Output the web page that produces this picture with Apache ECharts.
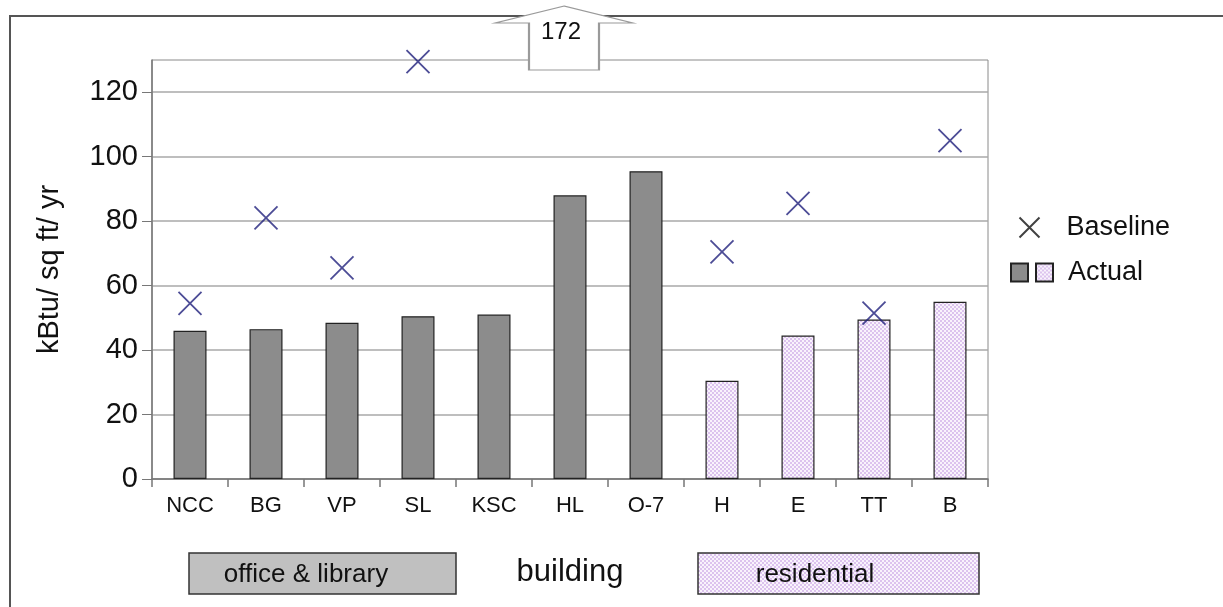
<!DOCTYPE html>
<html>
<head>
<meta charset="utf-8">
<script src="https://cdn.jsdelivr.net/npm/echarts@6/dist/echarts.min.js"></script>
<style>
html, body { margin: 0; padding: 0; background: #fff; }
#chart { width: 1223px; height: 607px; }
</style>
</head>
<body>
<div id="chart"></div>
<script>
// data
const categories = ['NCC', 'BG', 'VP', 'SL', 'KSC', 'HL', 'O-7', 'H', 'E', 'TT', 'B'];
const officeActual = [46, 46.5, 48.5, 50.5, 51, 88, 95.5, null, null, null, null];
const residentialActual = [null, null, null, null, null, null, null, 30.5, 44.5, 49.5, 55];
const baseline = [54.5, 81, 65.5, 129.5, null, null, null, 70.5, 85.5, 51.5, 105];
const offScale = { category: 'HL', value: 172 };
const yTicks = [0, 20, 40, 60, 80, 100, 120];

const FONT = '"Liberation Sans", Arial, sans-serif';

// small dotted tile for the residential fill
function dotPattern() {
    const c = document.createElement('canvas');
    c.width = 4; c.height = 4;
    const ctx = c.getContext('2d');
    ctx.fillStyle = '#f9f3fc';
    ctx.fillRect(0, 0, 4, 4);
    ctx.fillStyle = '#dcc3ee';
    ctx.fillRect(0, 0, 2, 2);
    ctx.fillRect(2, 2, 2, 2);
    return c;
}
const pink = { image: dotPattern(), repeat: 'repeat' };

const chart = echarts.init(document.getElementById('chart'));

const option = {
    animation: false,
    textStyle: { fontFamily: FONT },
    grid: {
        left: 152, right: 235, top: 60, bottom: 128,
        show: true, borderColor: '#8a8a8a', borderWidth: 1
    },
    legend: [
        {
            left: 1012, top: 209,
            data: [{ name: 'Baseline', itemStyle: { borderColor: '#111', borderWidth: 2 } }],
            itemWidth: 20, itemHeight: 22,
            textStyle: { fontSize: 27, color: '#111', padding: [0, 0, 0, 22] }
        },
        {
            left: 1005, top: 254,
            data: ['office', 'Actual'],
            formatter: n => n === 'office' ? '' : n,
            icon: 'rect',
            itemWidth: 17, itemHeight: 18, itemGap: 6,
            textStyle: { fontSize: 27, color: '#111', padding: [0, 0, 0, 10] }
        }
    ],
    xAxis: {
        type: 'category',
        data: categories,
        name: 'building',
        nameLocation: 'middle',
        nameGap: 78,
        nameTextStyle: { fontSize: 31, color: '#111' },
        axisLine: { lineStyle: { color: '#777', width: 1.5 } },
        axisTick: { show: true, length: 8, lineStyle: { color: '#777', width: 1.5 } },
        axisLabel: { fontSize: 22, color: '#111', margin: 16 }
    },
    yAxis: {
        type: 'value',
        min: 0, max: 130, interval: 20,
        name: 'kBtu/ sq ft/ yr',
        nameLocation: 'middle',
        nameGap: 88,
        nameTextStyle: { fontSize: 29, color: '#111' },
        axisLine: { show: true, lineStyle: { color: '#777', width: 1.5 } },
        axisTick: { show: true, length: 10, customValues: yTicks, lineStyle: { color: '#777' } },
        axisLabel: { fontSize: 29, color: '#111', margin: 14, customValues: yTicks },
        splitLine: { lineStyle: { color: '#a8a8a8', width: 1.5 } }
    },
    series: [
        {
            name: 'office',
            type: 'bar',
            stack: 'actual',
            barWidth: 33,
            data: officeActual,
            itemStyle: { color: '#8c8c8c', borderColor: '#222', borderWidth: 1.2 }
        },
        {
            name: 'Actual',
            type: 'bar',
            stack: 'actual',
            barWidth: 33,
            data: residentialActual,
            itemStyle: { color: pink, borderColor: '#222', borderWidth: 1.2 }
        },
        {
            name: 'Baseline',
            type: 'scatter',
            data: baseline,
            symbol: 'path://M0,0L10,10M10,0L0,10',
            symbolSize: 23,
            itemStyle: { color: 'none', borderColor: '#1f1f7c', borderWidth: 1.8 },
            z: 5,
            markPoint: {
                symbol: 'path://M69,0L138,17L104,17L104,64L34,64L34,17L0,17Z',
                symbolSize: [138, 64],
                symbolKeepAspect: false,
                symbolOffset: [-6, -22],
                itemStyle: { color: '#fff', borderColor: '#9a9a9a', borderWidth: 1.5 },
                label: { show: true, formatter: '{c}', color: '#111', fontSize: 24, offset: [-3, -6] },
                data: [{ coord: [offScale.category, 130], value: offScale.value }]
            }
        }
    ],
    graphic: [
        // outer frame (only top and left edges are inside the picture)
        {
            type: 'rect', z: -10,
            shape: { x: 10, y: 16, width: 1300, height: 700 },
            style: { fill: 'none', stroke: '#555', lineWidth: 2 }
        },
        {
            type: 'rect',
            shape: { x: 189, y: 553, width: 267, height: 41 },
            style: { fill: '#c0c0c0', stroke: '#333', lineWidth: 1.5 }
        },
        {
            type: 'text', x: 306, y: 575,
            style: { text: 'office & library', font: '26px ' + FONT, fill: '#111', align: 'center', verticalAlign: 'middle' }
        },
        {
            type: 'rect',
            shape: { x: 698, y: 553, width: 281, height: 41 },
            style: { fill: pink, stroke: '#333', lineWidth: 1.5 }
        },
        {
            type: 'text', x: 815, y: 575,
            style: { text: 'residential', font: '26px ' + FONT, fill: '#111', align: 'center', verticalAlign: 'middle' }
        }
    ]
};

chart.setOption(option);
</script>
</body>
</html>
